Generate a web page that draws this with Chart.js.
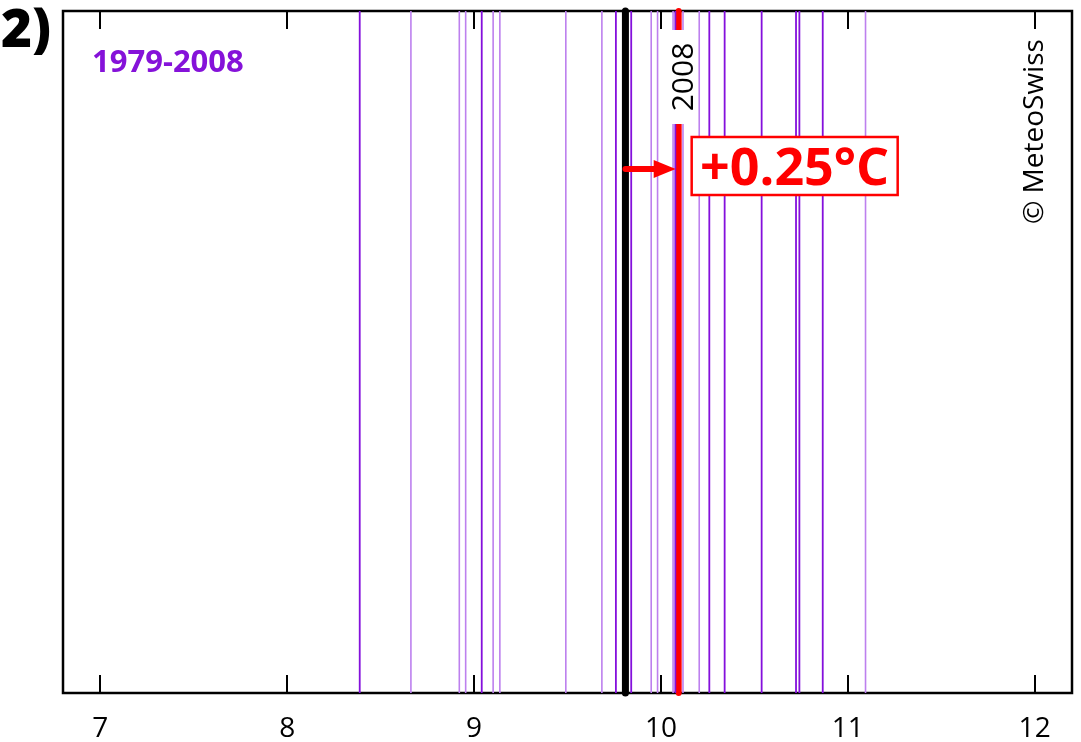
<!DOCTYPE html>
<html>
<head>
<meta charset="utf-8">
<script src="https://cdn.jsdelivr.net/npm/chart.js@4.4.1/dist/chart.umd.min.js"></script>
<style>
  html, body { margin: 0; padding: 0; background: #fff; }
  #wrap { width: 1081px; height: 742px; position: relative; }
</style>
</head>
<body>
<div id="wrap"><canvas id="chart"></canvas></div>
<script>
// yearly mean temperatures 1979-2008 (°C), read off the strip
// light = single years, dark = where two years sit on top of each other
const lightYears = [8.662, 8.921, 8.955, 9.102, 9.138, 9.491, 9.684, 9.948, 9.982, 10.065, 10.118, 10.205, 11.095];
const darkYears = [8.388, 9.041, 9.759, 9.841, 10.077, 10.259, 10.341, 10.539, 10.723, 10.741, 10.866];
const meanValue = 9.81;
const value2008 = 10.095;
const xTicks = [7, 8, 9, 10, 11, 12];

const panelLabel = '2)';
const periodLabel = '1979-2008';
const yearLabel = '2008';
const diffLabel = '+0.25°C';
const creditLabel = '© MeteoSwiss';

// every value becomes a vertical stroke from bottom to top, null breaks the line
function stripes(values) {
  const pts = [];
  for (const v of values) {
    pts.push({x: v, y: 0}, {x: v, y: 1}, {x: v, y: null});
  }
  return pts;
}

const frame = {
  id: 'frame',
  beforeDatasetsDraw(chart) {
    const {ctx, chartArea: a, scales: {x}} = chart;
    ctx.save();
    ctx.strokeStyle = '#000';
    ctx.lineWidth = 2.5;
    ctx.strokeRect(a.left, a.top, a.right - a.left, a.bottom - a.top);
    ctx.lineWidth = 2;
    for (const t of xTicks) {
      const px = Math.round(x.getPixelForValue(t));
      ctx.beginPath();
      ctx.moveTo(px, a.bottom); ctx.lineTo(px, a.bottom - 18);
      ctx.moveTo(px, a.top); ctx.lineTo(px, a.top + 18);
      ctx.stroke();
    }
    ctx.restore();
  }
};

const notes = {
  id: 'notes',
  afterDatasetsDraw(chart) {
    const {ctx, chartArea: a, scales: {x}} = chart;
    const xr = x.getPixelForValue(value2008);
    const xm = x.getPixelForValue(meanValue);
    ctx.save();

    // "2008" tag on the red line
    ctx.fillStyle = '#fff';
    ctx.fillRect(xr - 15, a.top + 19, 34, 94);
    ctx.save();
    ctx.translate(xr + 14, a.top + 66);
    ctx.rotate(-Math.PI / 2);
    ctx.fillStyle = '#000';
    ctx.font = '30px "Open Sans"';
    ctx.textAlign = 'center';
    ctx.textBaseline = 'alphabetic';
    ctx.fillText(yearLabel, 0, 0);
    ctx.restore();

    // arrow from the mean to 2008
    const ay = 169;
    ctx.strokeStyle = '#f00';
    ctx.fillStyle = '#f00';
    ctx.lineWidth = 6;
    ctx.lineCap = 'round';
    ctx.beginPath();
    ctx.moveTo(xm, ay);
    ctx.lineTo(xr - 22, ay);
    ctx.stroke();
    ctx.beginPath();
    ctx.moveTo(xr - 25, ay - 9);
    ctx.lineTo(xr - 3, ay);
    ctx.lineTo(xr - 25, ay + 9);
    ctx.closePath();
    ctx.fill();

    // difference box
    const bx = xr + 13, by = 137, bw = 206, bh = 58;
    ctx.fillStyle = '#fff';
    ctx.fillRect(bx, by, bw, bh);
    ctx.strokeStyle = '#f00';
    ctx.lineWidth = 2.5;
    ctx.strokeRect(bx, by, bw, bh);
    ctx.fillStyle = '#f00';
    ctx.font = 'bold 52px "Open Sans"';
    ctx.textAlign = 'center';
    ctx.textBaseline = 'alphabetic';
    ctx.fillText(diffLabel, bx + bw / 2, 185);

    // credit
    ctx.save();
    ctx.translate(1043, 224);
    ctx.rotate(-Math.PI / 2);
    ctx.fillStyle = '#000';
    ctx.font = '28px "Open Sans"';
    ctx.textAlign = 'left';
    ctx.fillText(creditLabel, 0, 0);
    ctx.restore();

    // period and panel label
    ctx.textAlign = 'left';
    ctx.fillStyle = '#8512d9';
    ctx.font = 'bold 31px "Open Sans"';
    ctx.fillText(periodLabel, 92, 72);
    ctx.fillStyle = '#000';
    ctx.font = '800 53px "Open Sans"';
    ctx.fillText(panelLabel, 1, 47);

    ctx.restore();
  }
};

new Chart(document.getElementById('chart'), {
  type: 'line',
  data: {
    datasets: [
      {
        label: 'years',
        data: stripes(lightYears),
        borderColor: '#bd80ee',
        borderWidth: 1.6,
        pointRadius: 0
      },
      {
        label: 'years (overlapping)',
        data: stripes(darkYears),
        borderColor: '#8410dc',
        borderWidth: 1.8,
        pointRadius: 0
      },
      {
        label: 'mean 1979-2008',
        data: stripes([meanValue]),
        borderColor: '#000',
        borderWidth: 7,
        borderCapStyle: 'round',
        pointRadius: 0,
        clip: 6
      },
      {
        label: '2008',
        data: stripes([value2008]),
        borderColor: '#f00',
        borderWidth: 6,
        borderCapStyle: 'round',
        pointRadius: 0,
        clip: 6
      }
    ]
  },
  options: {
    responsive: true,
    maintainAspectRatio: false,
    animation: false,
    layout: { padding: { left: 63, right: 9, top: 11, bottom: 0 } },
    plugins: {
      legend: { display: false },
      tooltip: { enabled: false }
    },
    scales: {
      x: {
        type: 'linear',
        min: 6.8,
        max: 12.2,
        grid: { display: false },
        border: { display: false },
        ticks: {
          stepSize: 1,
          includeBounds: false,
          padding: 11,
          color: '#000',
          font: { family: '"Open Sans"', size: 28 }
        },
        afterFit(scale) { scale.height = 49; }
      },
      y: {
        min: 0,
        max: 1,
        display: false
      }
    }
  },
  plugins: [frame, notes]
});
</script>
</body>
</html>
